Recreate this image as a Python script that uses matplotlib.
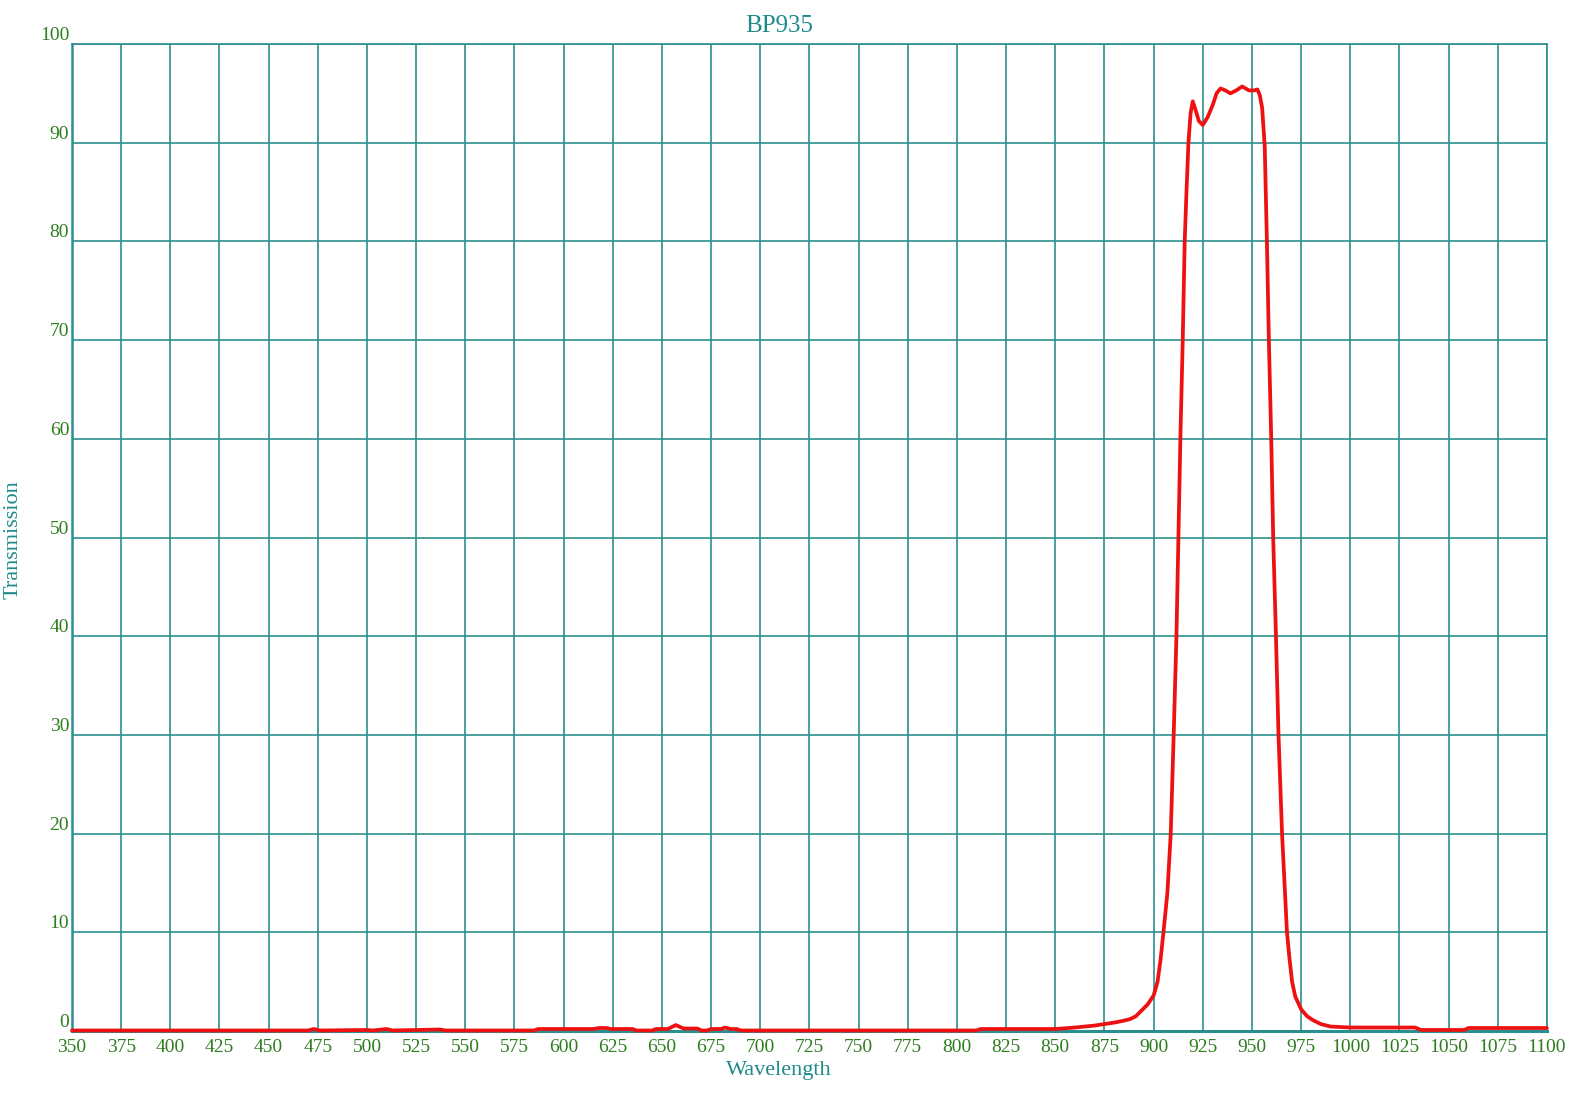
import matplotlib
matplotlib.use("Agg")
import matplotlib.pyplot as plt

# Transmission curve of the BP935 band-pass filter.
wavelength = [
    350, 470, 473, 476, 500, 503, 510, 513, 537, 540, 585, 587, 615, 618, 622,
    624, 635, 637, 645, 647, 653, 657, 661, 668, 670, 673, 675, 680, 682, 685,
    688, 690, 810, 812, 850, 860, 870, 875, 880, 885, 888, 891, 894, 897, 900,
    902, 903.5, 905, 907, 908.7, 910.2, 911.6, 912.6, 913.6, 914.8, 915.8,
    916.7, 917.7, 918.8, 919.9, 921.5, 923, 925, 927.5, 930, 932, 934, 936.5,
    939, 942, 945, 948.5, 951, 952.8, 954, 955.2, 956.5, 957.6, 958.6, 959.8,
    960.8, 962.2, 963.5, 965.3, 967.8, 969, 970.4, 972, 975, 978, 981, 985,
    990, 1000, 1033, 1036, 1058, 1060, 1100,
]
transmission = [
    0.05, 0.05, 0.2, 0.05, 0.1, 0.05, 0.2, 0.05, 0.15, 0.05, 0.05, 0.2, 0.2,
    0.3, 0.3, 0.2, 0.2, 0.05, 0.05, 0.2, 0.2, 0.6, 0.25, 0.25, 0.05, 0.05, 0.2,
    0.2, 0.35, 0.2, 0.2, 0.05, 0.05, 0.2, 0.2, 0.35, 0.55, 0.7, 0.85, 1.05, 1.2,
    1.5, 2.1, 2.7, 3.6, 5.0, 7.2, 10, 14, 20, 30, 40, 50, 60, 70, 80, 85, 90,
    93, 94.2, 93.2, 92.2, 91.8, 92.6, 93.8, 95.0, 95.5, 95.3, 95.0, 95.3, 95.7,
    95.3, 95.3, 95.4, 94.8, 93.5, 89.6, 80, 70, 60, 50, 40, 30, 20, 10, 7.5,
    5.0, 3.5, 2.2, 1.5, 1.1, 0.7, 0.45, 0.35, 0.35, 0.1, 0.1, 0.3, 0.3,
]
x_ticks = list(range(350, 1101, 25))
y_ticks = list(range(0, 101, 10))

TEAL = "#1f8a8a"
GRID = "#2b8f8f"
LABEL_GREEN = "#2e7d1f"

plt.rcParams["font.family"] = ["Liberation Serif", "DejaVu Serif"]

fig = plt.figure(figsize=(15.79, 11.01), dpi=100)
ax = fig.add_axes([0.0456, 0.0636, 0.9341, 0.8964])

ax.plot(wavelength, transmission, color="#ee1111", lw=2.7,
        solid_joinstyle="round", solid_capstyle="round", zorder=3,
        clip_on=False)

ax.set_xlim(350, 1100)
ax.set_ylim(0, 100)
ax.set_xticks(x_ticks)
ax.set_yticks(y_ticks)
ax.grid(True, color=GRID, lw=1.2)
ax.set_axisbelow(True)
ax.tick_params(length=0, labelsize=14, labelcolor=LABEL_GREEN)
ax.tick_params(axis="x", pad=6)
ax.tick_params(axis="y", pad=2)
for lab in ax.get_yticklabels():
    lab.set_verticalalignment("bottom")

for side, sp in ax.spines.items():
    sp.set_color(GRID)
    sp.set_linewidth(1.2)
ax.spines["bottom"].set_linewidth(2.2)
ax.spines["left"].set_linewidth(1.8)

fig.text(0.4934, 0.976, "BP935", color=TEAL, fontsize=18,
         ha="center", va="center")
fig.text(0.4934, 0.028, "Wavelength", color=TEAL, fontsize=16,
         ha="center", va="center")
fig.text(0.0085, 0.5095, "Transmission", color=TEAL, fontsize=16,
         ha="center", va="center", rotation=90)

fig.savefig("out.png", dpi=100)
